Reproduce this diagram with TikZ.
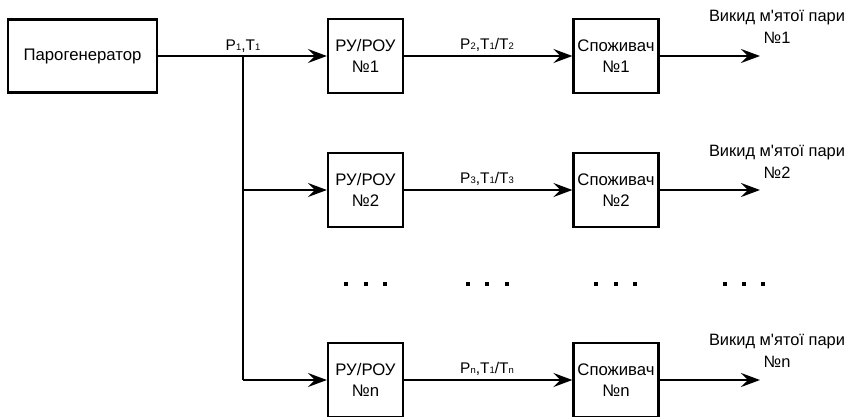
\documentclass[tikz,border=0pt]{standalone}
\usepackage{fontspec}
\setmainfont{Liberation Sans}[Ligatures=TeXOff]
\usetikzlibrary{arrows.meta}
\newcommand{\sbs}[1]{{\fontsize{9.5}{9.5}\selectfont #1}}
\begin{document}
\begin{tikzpicture}[x=1bp,y=-1bp,
 box/.style={draw,line width=2.2bp,inner sep=0pt,align=center,font=\fontsize{16.8}{21.5}\selectfont},
 flow/.style={line width=2.2bp,-{Stealth[length=19bp,width=14bp,inset=7bp]}},
 wire/.style={line width=2.2bp},
 lbl/.style={font=\fontsize{15.5}{22}\selectfont,align=center,inner sep=0pt},
 dotm/.style={fill=black,minimum size=3.2bp,inner sep=0pt}]
\useasboundingbox (0,0) rectangle (848,416);
\clip (0,0) rectangle (848,416);
% boxes
\node[box,minimum width=149bp,minimum height=73bp] (gen) at (82.5,56) {Парогенератор};
\node[box,minimum width=75bp,minimum height=74bp] (r1) at (365.5,56) {РУ/РОУ\\№1};
\node[box,minimum width=85bp,minimum height=74bp] (c1) at (616,56) {Споживач\\№1};
\node[box,minimum width=75bp,minimum height=74bp] (r2) at (365.5,190) {РУ/РОУ\\№2};
\node[box,minimum width=85bp,minimum height=74bp] (c2) at (616,190) {Споживач\\№2};
\node[box,minimum width=75bp,minimum height=74bp] (rn) at (365.5,380) {РУ/РОУ\\№n};
\node[box,minimum width=85bp,minimum height=74bp] (cn) at (616,380) {Споживач\\№n};
% junctions and ends
\coordinate (j1) at (243,56);
\coordinate (j2) at (243,190);
\coordinate (jn) at (243,380);
\coordinate (o1) at (760,56);
\coordinate (o2) at (760,190);
\coordinate (on) at (760,380);
% connectors
\draw[flow] (gen.east) -- (r1.west);
\draw[wire] (j1) -- (jn);
\draw[flow] (j2) -- (r2.west);
\draw[flow] (jn) -- (rn.west);
\draw[flow] (r1.east) -- (c1.west);
\draw[flow] (r2.east) -- (c2.west);
\draw[flow] (rn.east) -- (cn.west);
\draw[flow] (c1.east) -- (o1);
\draw[flow] (c2.east) -- (o2);
\draw[flow] (cn.east) -- (on);
% labels
\node[lbl] (l1) at (243,46) {P\sbs{1},T\sbs{1}};
\node[lbl] (l2) at (487,45) {P\sbs{2},T\sbs{1}/T\sbs{2}};
\node[lbl] (l3) at (487,179) {P\sbs{3},T\sbs{1}/T\sbs{3}};
\node[lbl] (ln) at (487,369) {P\sbs{n},T\sbs{1}/T\sbs{n}};
\node[lbl,font=\fontsize{16.5}{22.5}\selectfont] (v1) at (777,27) {Викид м'ятої пари\\№1};
\node[lbl,font=\fontsize{16.5}{22.5}\selectfont] (v2) at (777,162) {Викид м'ятої пари\\№2};
\node[lbl,font=\fontsize{16.5}{22.5}\selectfont] (vn) at (777,351) {Викид м'ятої пари\\№n};
% dots
\foreach \x [count=\i] in {346,366,385,468,487,507,596,616,635,725,744,763}
  \node[dotm] (d\i) at (\x,284) {};
\end{tikzpicture}
\end{document}
